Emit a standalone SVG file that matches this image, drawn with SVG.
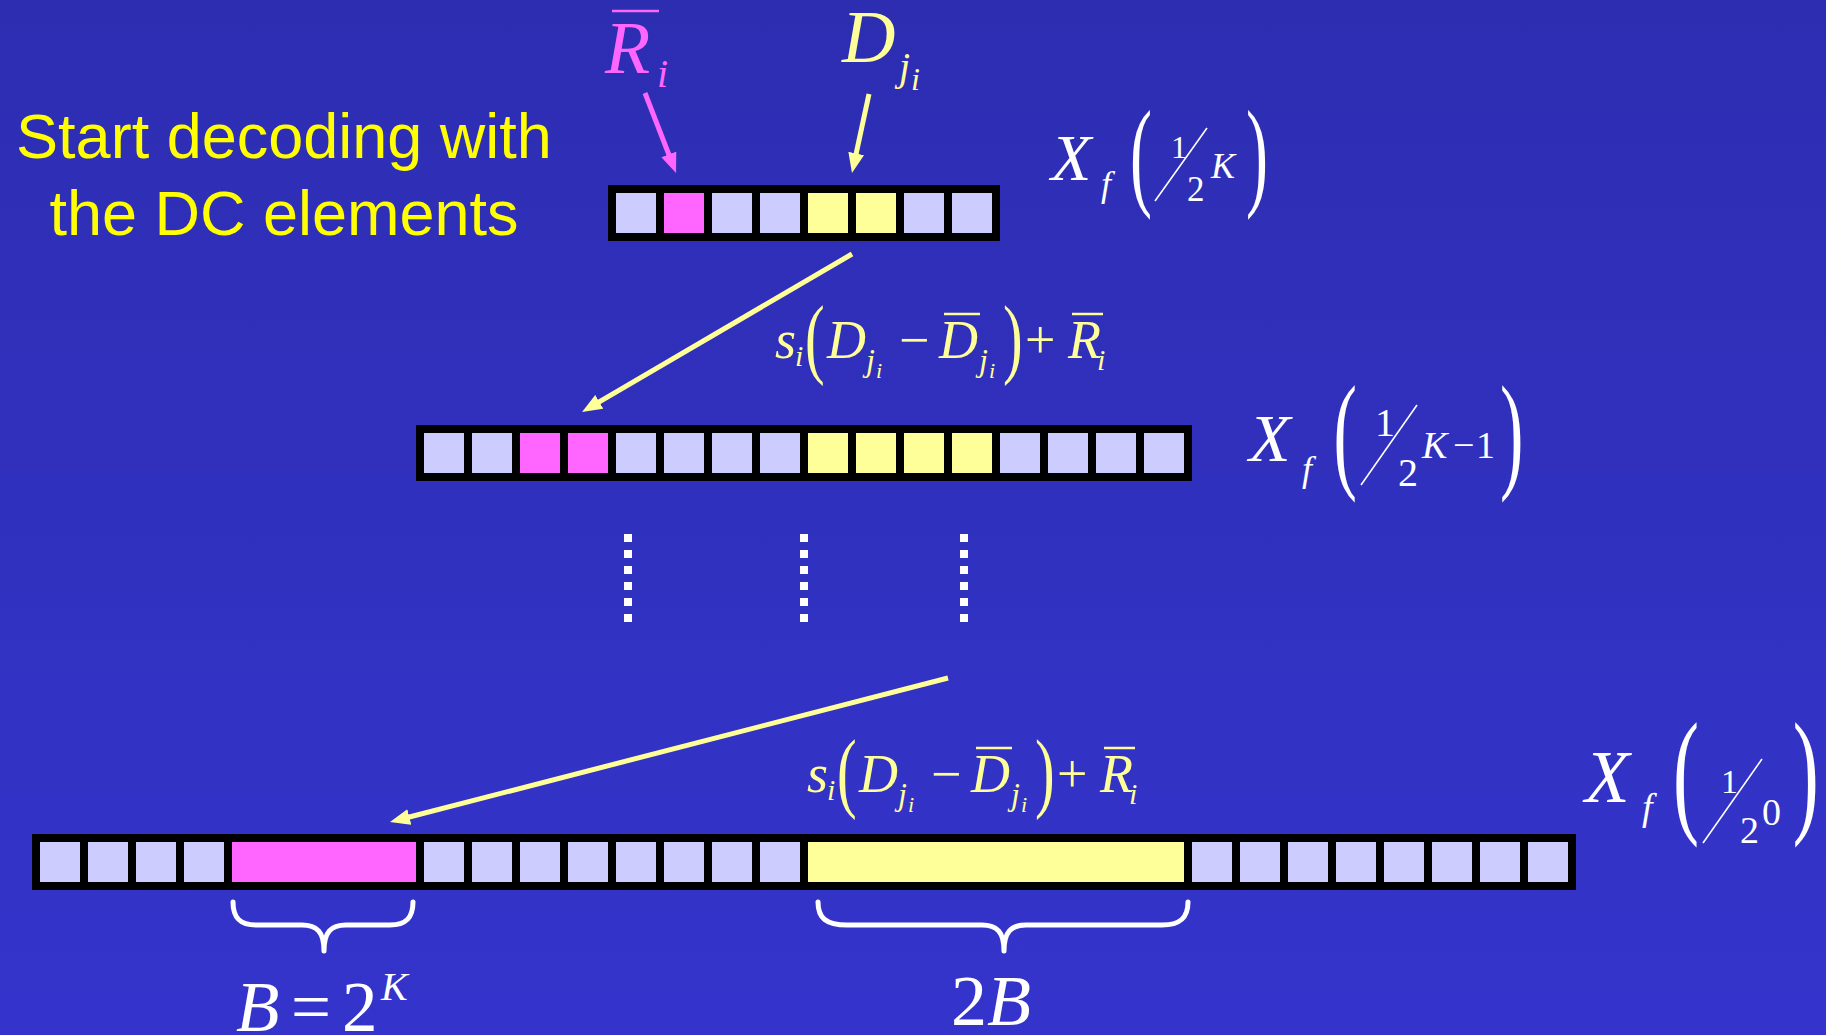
<svg xmlns="http://www.w3.org/2000/svg" width="1826" height="1035" viewBox="0 0 1826 1035">
<style>
.c{fill:#CCCCFF}.m{fill:#FF66FF}.y{fill:#FFFF99}.bk{fill:#000}
.mi{font-family:"Liberation Serif",serif;font-style:italic}
.mr{font-family:"Liberation Serif",serif;font-style:normal}
.w{fill:#FFFFFF}.yl{fill:#FFFF99}.mg{fill:#FF66FF}
.bar{stroke-width:2.5;fill:none}
.arr{stroke-width:5;fill:none}
.dots{stroke:#FFFFFF;stroke-width:8;stroke-dasharray:8 8;fill:none}
.brace{stroke:#FFFFFF;stroke-width:5;fill:none;stroke-linecap:round;stroke-linejoin:round}
.sl{stroke:#FFFFFF;stroke-width:1.6}
</style>
<defs>
<linearGradient id="bg" x1="0" y1="0" x2="0" y2="1">
<stop offset="0" stop-color="#2D2DB2"/>
<stop offset="1" stop-color="#3434CC"/>
</linearGradient>
<marker id="ahY" viewBox="0 0 20 16" refX="8" refY="8" markerWidth="20" markerHeight="16" markerUnits="userSpaceOnUse" orient="auto">
<path d="M0,0 L20,8 L0,16 z" fill="#FFFF99"/>
</marker>
<marker id="ahM" viewBox="0 0 20 16" refX="8" refY="8" markerWidth="20" markerHeight="16" markerUnits="userSpaceOnUse" orient="auto">
<path d="M0,0 L20,8 L0,16 z" fill="#FF66FF"/>
</marker>
<g id="formula">
<text class="mi yl" x="775" y="358" font-size="54">s</text>
<text class="mi yl" x="795" y="366" font-size="30">i</text>
<text class="mr yl" font-size="88" transform="translate(805,366.5) scale(0.67,1)">(</text>
<text class="mi yl" x="827" y="358" font-size="54">D</text>
<text class="mi yl" x="866" y="371" font-size="32">j</text>
<text class="mi yl" x="876" y="378" font-size="22">i</text>
<text class="mr yl" x="899" y="358" font-size="54">−</text>
<text class="mi yl" x="939" y="358" font-size="54">D</text>
<line x1="944" y1="314" x2="980" y2="314" stroke="#FFFF99" class="bar"/>
<text class="mi yl" x="979" y="371" font-size="32">j</text>
<text class="mi yl" x="989" y="378" font-size="22">i</text>
<text class="mr yl" font-size="88" transform="translate(1003,366.5) scale(0.67,1)">)</text>
<text class="mr yl" x="1025" y="358" font-size="54">+</text>
<text class="mi yl" x="1068" y="358" font-size="54">R</text>
<line x1="1072" y1="314" x2="1103" y2="314" stroke="#FFFF99" class="bar"/>
<text class="mi yl" x="1097" y="370" font-size="30">i</text>
</g>
</defs>
<rect x="0" y="0" width="1826" height="1035" fill="url(#bg)"/>

<g id="caption">
<text x="284" y="158" font-family="Liberation Sans, Arial, sans-serif" font-size="63" fill="#FFFF00" text-anchor="middle">Start decoding with</text>
<text x="284" y="235" font-family="Liberation Sans, Arial, sans-serif" font-size="63" fill="#FFFF00" text-anchor="middle">the DC elements</text>
</g>

<g id="label-R">
<text class="mi mg" x="605" y="73" font-size="74">R</text>
<line x1="612" y1="11" x2="659" y2="11" stroke="#FF66FF" stroke-width="2.5"/>
<text class="mi mg" x="657" y="87" font-size="40">i</text>
</g>

<g id="label-D">
<text class="mi yl" x="842" y="62" font-size="74">D</text>
<text class="mi yl" x="899" y="80" font-size="40">j</text>
<text class="mi yl" x="911" y="90" font-size="32">i</text>
</g>

<g id="bar-top">
<rect class="bk" x="608" y="185" width="392" height="56"/>
<rect class="c" x="616" y="193" width="40" height="40"/>
<rect class="m" x="664" y="193" width="40" height="40"/>
<rect class="c" x="712" y="193" width="40" height="40"/>
<rect class="c" x="760" y="193" width="40" height="40"/>
<rect class="y" x="808" y="193" width="40" height="40"/>
<rect class="y" x="856" y="193" width="40" height="40"/>
<rect class="c" x="904" y="193" width="40" height="40"/>
<rect class="c" x="952" y="193" width="40" height="40"/>
</g>

<g id="label-top">
<text class="mi w" x="1051" y="180" font-size="66">X</text>
<text class="mi w" x="1101" y="196" font-size="36">f</text>
<text class="mr w" font-size="120" transform="translate(1130,194) scale(0.55,1)">(</text>
<text class="mr w" x="1171" y="158" font-size="32">1</text>
<line class="sl" x1="1155" y1="201" x2="1207" y2="128"/>
<text class="mr w" x="1187" y="201" font-size="35">2</text>
<text class="mi w" x="1211" y="178" font-size="36">K</text>
<text class="mr w" font-size="120" transform="translate(1246,194) scale(0.55,1)">)</text>
</g>

<g id="bar-mid">
<rect class="bk" x="416" y="425" width="776" height="56"/>
<rect class="c" x="424" y="433" width="40" height="40"/>
<rect class="c" x="472" y="433" width="40" height="40"/>
<rect class="m" x="520" y="433" width="40" height="40"/>
<rect class="m" x="568" y="433" width="40" height="40"/>
<rect class="c" x="616" y="433" width="40" height="40"/>
<rect class="c" x="664" y="433" width="40" height="40"/>
<rect class="c" x="712" y="433" width="40" height="40"/>
<rect class="c" x="760" y="433" width="40" height="40"/>
<rect class="y" x="808" y="433" width="40" height="40"/>
<rect class="y" x="856" y="433" width="40" height="40"/>
<rect class="y" x="904" y="433" width="40" height="40"/>
<rect class="y" x="952" y="433" width="40" height="40"/>
<rect class="c" x="1000" y="433" width="40" height="40"/>
<rect class="c" x="1048" y="433" width="40" height="40"/>
<rect class="c" x="1096" y="433" width="40" height="40"/>
<rect class="c" x="1144" y="433" width="40" height="40"/>
</g>

<g id="label-mid">
<text class="mi w" x="1249" y="461" font-size="68">X</text>
<text class="mi w" x="1302" y="481" font-size="36">f</text>
<text class="mr w" font-size="129" transform="translate(1333.6,475) scale(0.545,1)">(</text>
<text class="mr w" x="1375" y="436" font-size="40">1</text>
<line class="sl" x1="1361" y1="485" x2="1417" y2="405"/>
<text class="mr w" x="1398" y="486" font-size="40">2</text>
<text class="mi w" x="1422" y="458" font-size="38">K</text>
<text class="mr w" x="1453" y="458" font-size="38">−</text>
<text class="mr w" x="1476" y="458" font-size="38">1</text>
<text class="mr w" font-size="129" transform="translate(1500,475) scale(0.545,1)">)</text>
</g>

<g id="formula-mid">
<use href="#formula"/>
</g>

<g id="dots">
<line class="dots" x1="628" y1="534" x2="628" y2="622"/>
<line class="dots" x1="804" y1="534" x2="804" y2="622"/>
<line class="dots" x1="964" y1="534" x2="964" y2="622"/>
</g>

<g id="formula-bot">
<use href="#formula" transform="translate(32,434)"/>
</g>

<g id="bar-bot">
<rect class="bk" x="32" y="834" width="1544" height="56"/>
<rect class="c" x="40" y="842" width="40" height="40"/>
<rect class="c" x="88" y="842" width="40" height="40"/>
<rect class="c" x="136" y="842" width="40" height="40"/>
<rect class="c" x="184" y="842" width="40" height="40"/>
<rect class="m" x="232" y="842" width="184" height="40"/>
<rect class="c" x="424" y="842" width="40" height="40"/>
<rect class="c" x="472" y="842" width="40" height="40"/>
<rect class="c" x="520" y="842" width="40" height="40"/>
<rect class="c" x="568" y="842" width="40" height="40"/>
<rect class="c" x="616" y="842" width="40" height="40"/>
<rect class="c" x="664" y="842" width="40" height="40"/>
<rect class="c" x="712" y="842" width="40" height="40"/>
<rect class="c" x="760" y="842" width="40" height="40"/>
<rect class="y" x="808" y="842" width="376" height="40"/>
<rect class="c" x="1192" y="842" width="40" height="40"/>
<rect class="c" x="1240" y="842" width="40" height="40"/>
<rect class="c" x="1288" y="842" width="40" height="40"/>
<rect class="c" x="1336" y="842" width="40" height="40"/>
<rect class="c" x="1384" y="842" width="40" height="40"/>
<rect class="c" x="1432" y="842" width="40" height="40"/>
<rect class="c" x="1480" y="842" width="40" height="40"/>
<rect class="c" x="1528" y="842" width="40" height="40"/>
</g>

<g id="label-bot">
<text class="mi w" x="1585" y="802" font-size="73">X</text>
<text class="mi w" x="1642" y="820" font-size="38">f</text>
<text class="mr w" font-size="138" transform="translate(1673,818) scale(0.566,1)">(</text>
<text class="mr w" x="1721" y="793" font-size="34">1</text>
<line class="sl" x1="1703" y1="843" x2="1762" y2="759"/>
<text class="mr w" x="1740" y="843" font-size="38">2</text>
<text class="mr w" x="1762" y="825" font-size="38">0</text>
<text class="mr w" font-size="138" transform="translate(1792.7,818) scale(0.566,1)">)</text>
</g>

<g id="brace-B">
<path class="brace" d="M233,902 C233,918 240,925 256,925 L302,925 C317,925 324,932 324,951 C324,932 331,925 346,925 L390,925 C406,925 413,918 413,902"/>
<text class="mi w" x="236" y="1031" font-size="71">B</text>
<text class="mr w" x="291" y="1031" font-size="71">=</text>
<text class="mr w" x="342" y="1031" font-size="71">2</text>
<text class="mi w" x="381" y="1000" font-size="40">K</text>
</g>

<g id="brace-2B">
<path class="brace" d="M818,902 C818,918 826,925 847,925 L982,925 C997,925 1004,932 1004,951 C1004,932 1011,925 1026,925 L1162,925 C1180,925 1188,918 1188,902"/>
<text class="w" x="951" y="1025" font-size="72"><tspan class="mr">2</tspan><tspan class="mi">B</tspan></text>
</g>

<g id="connectors">
<line class="arr" stroke="#FF66FF" x1="645" y1="93" x2="671.7" y2="161.8" marker-end="url(#ahM)"/>
<line class="arr" stroke="#FFFF99" x1="869" y1="94" x2="854.5" y2="161.3" marker-end="url(#ahY)"/>
<line class="arr" stroke="#FFFF99" x1="852" y1="254" x2="592.4" y2="405.9" marker-end="url(#ahY)"/>
<line class="arr" stroke="#FFFF99" x1="948" y1="678" x2="401.6" y2="819" marker-end="url(#ahY)"/>
</g>
</svg>
